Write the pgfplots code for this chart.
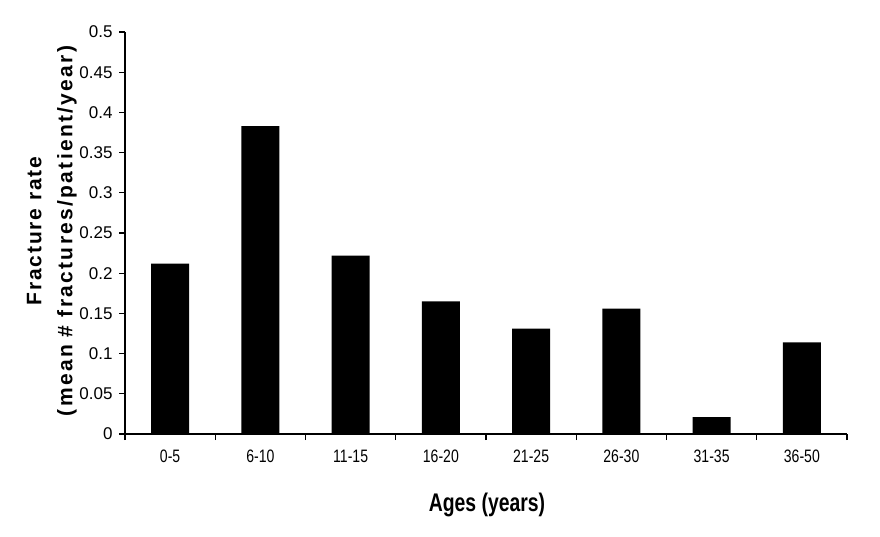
\documentclass[border=0pt]{standalone}
\usepackage{pgfplots}
\pgfplotsset{compat=1.18}
\usepackage{fontspec}
\setmainfont{Liberation Sans}
\newfontfamily\xtickfont[FakeStretch=0.78]{Liberation Sans}
\newfontfamily\ytickfont{Liberation Sans}
\newfontfamily\xlabfont[FakeStretch=0.76]{Liberation Sans}
\newfontfamily\ylabAfont[LetterSpace=9]{Liberation Sans}
\newfontfamily\ylabBfont[LetterSpace=11]{Liberation Sans}
\begin{document}
\begin{tikzpicture}[x=1pt,y=1pt]
\path[use as bounding box] (0,0) rectangle (880,536);
\begin{axis}[
  at={(125pt,102pt)}, anchor=south west,
  scale only axis, width=722pt, height=402pt,
  xmin=-0.5, xmax=7.5, ymin=0, ymax=0.5,
  axis x line*=bottom, axis y line*=left,
  axis line style={line width=2pt, black},
  ybar, bar width=38pt,
  xtick={-0.5,0.5,1.5,2.5,3.5,4.5,5.5,6.5,7.5},
  xticklabels={},
  extra x ticks={0,1,2,3,4,5,6,7},
  extra x tick labels={0-5,6-10,11-15,16-20,21-25,26-30,31-35,36-50},
  extra x tick style={major tick length=0pt, tick style={draw=none}},
  tick style={line width=1.3pt, black},
  major tick length=6pt,
  tick align=outside,
  ytick={0,0.05,0.1,0.15,0.2,0.25,0.3,0.35,0.4,0.45,0.5},
  yticklabels={0,0.05,0.1,0.15,0.2,0.25,0.3,0.35,0.4,0.45,0.5},
  xticklabel style={font=\xtickfont\fontsize{18}{20}\selectfont, anchor=base, yshift=-28pt},
  yticklabel style={font=\ytickfont\fontsize{17}{20}\selectfont, xshift=-3pt},
]
\addplot[fill=black, draw=none] coordinates {
  (0,0.212) (1,0.383) (2,0.222) (3,0.165) (4,0.131) (5,0.156) (6,0.021) (7,0.114)
};
\end{axis}
\node[anchor=base, font=\xlabfont\bfseries\fontsize{25.5}{28}\selectfont] at (487,24.3) {Ages (years)};
\node[rotate=90, anchor=south, align=center, inner sep=0pt,
      font=\bfseries\fontsize{21}{31}\selectfont] at (77,305)
  {{\ylabAfont\bfseries Fracture rate}\\
   {\ylabBfont\bfseries (mean \# fractures/patient/year)}};
\end{tikzpicture}
\end{document}
